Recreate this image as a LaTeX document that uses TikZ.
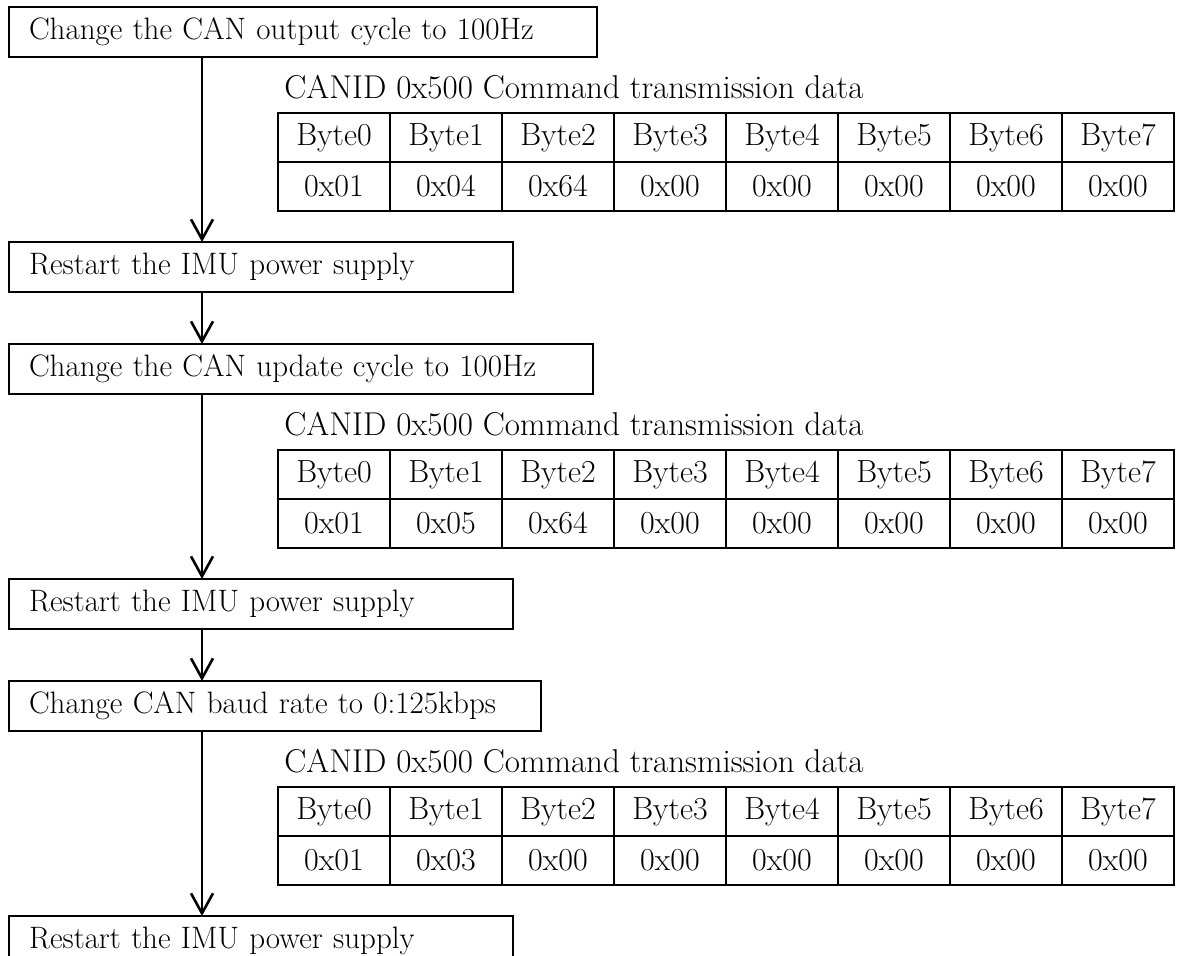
\documentclass[tikz,border=0pt]{standalone}
\usepackage{amsmath}
\usetikzlibrary{arrows.meta}

\tikzset{
  stepbox/.style={draw, line width=0.8pt, anchor=west, minimum height=25pt,
    inner xsep=10pt, inner ysep=0pt, outer sep=0pt, text width=#1, align=left},
  cell/.style={draw, line width=1pt, minimum width=56pt, minimum height=24.5pt,
    inner sep=0pt, outer sep=0pt, font=\fontsize{16}{18}\selectfont},
  caption/.style={anchor=base west, inner sep=0pt, font=\fontsize{16.5}{19}\selectfont},
  flow/.style={-{Straight Barb[length=10pt,width=11pt]}, line width=1.3pt},
}

\begin{document}
\begin{tikzpicture}[x=0.5pt, y=-0.5pt, font=\fontsize{15.5}{18}\selectfont]
\useasboundingbox (0,0) rectangle (1178,955);
%%   steps   (name)   (x, y)   {text}
    \node[stepbox=274pt] (outcyc) at (9,32) {Change the CAN output cycle to 100Hz};
    \node[stepbox=232pt] (rst1) at (9,267) {Restart the IMU power supply};
    \node[stepbox=272pt] (updcyc) at (9,369) {Change the CAN update cycle to 100Hz};
    \node[stepbox=232pt] (rst2) at (9,604) {Restart the IMU power supply};
    \node[stepbox=246pt] (baud) at (9,706) {Change CAN baud rate to 0:125kbps};
    \node[stepbox=232pt] (rst3) at (9,941) {Restart the IMU power supply};
%%   arrows down the left
    \draw[flow] ([xshift=96.5pt]outcyc.south west) -- ([xshift=96.5pt]rst1.north west);
    \draw[flow] ([xshift=96.5pt]rst1.south west) -- ([xshift=96.5pt]updcyc.north west);
    \draw[flow] ([xshift=96.5pt]updcyc.south west) -- ([xshift=96.5pt]rst2.north west);
    \draw[flow] ([xshift=96.5pt]rst2.south west) -- ([xshift=96.5pt]baud.north west);
    \draw[flow] ([xshift=96.5pt]baud.south west) -- ([xshift=96.5pt]rst3.north west);
%%   command tables
    \foreach \t/\ty/\bA/\bB in {1/113/04/64, 2/450/05/64, 3/787/03/00}{
      \node[caption] (cap\t) at (284,\ty-15) {CANID 0x500 Command transmission data};
      \foreach \i in {0,...,7}{
        \node[cell] (t\t h\i) at ({334+112*\i},{\ty+24.5}) {Byte\i};
        \node[cell] (t\t v\i) at ({334+112*\i},{\ty+73.5})
          {0x\ifcase\i\relax 01\or\bA\or\bB\else 00\fi};
      }
    }
\end{tikzpicture}
\end{document}
